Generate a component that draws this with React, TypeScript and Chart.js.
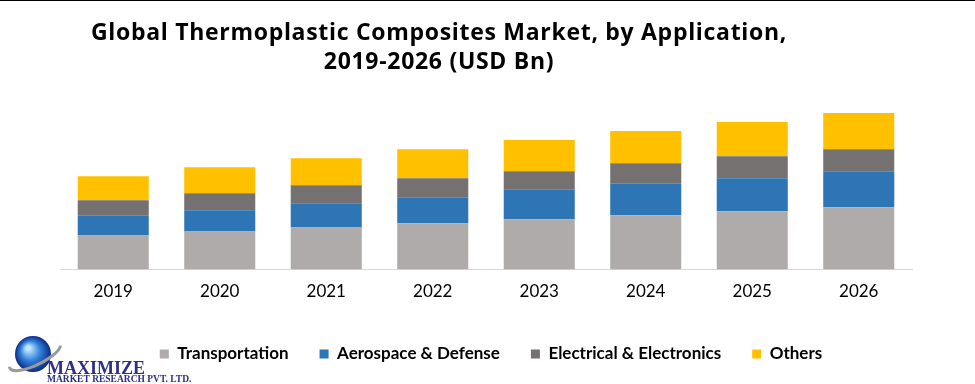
import React, { useEffect, useRef } from "react";
import { Chart, registerables } from "chart.js";

Chart.register(...registerables);

const years = ["2019", "2020", "2021", "2022", "2023", "2024", "2025", "2026"];
const transportation = [6.8, 7.6, 8.4, 9.2, 10.0, 10.8, 11.6, 12.4];
const aerospace = [3.9, 4.2, 4.8, 5.2, 5.9, 6.3, 6.6, 7.2];
const electrical = [3.1, 3.4, 3.6, 3.8, 3.7, 4.1, 4.4, 4.4];
const others = [4.8, 5.2, 5.4, 5.8, 6.2, 6.4, 6.8, 7.2];
const titleLines = ["Global Thermoplastic Composites Market, by Application,", "2019-2026 (USD Bn)"];
const logoMain = "MAXIMIZE";
const logoSub = "MARKET RESEARCH PVT. LTD.";

const legendShiftPlugin = {
  id: "legendShift",
  afterLayout(chart: any) {
    const l = chart.legend;
    if (l) {
      l.left += 5;
      l.right += 5;
    }
  },
};

const decorPlugin = {
  id: "decor",
  afterDraw(chart: any) {
    const ctx = chart.ctx as CanvasRenderingContext2D;
    ctx.save();
    // top border line
    ctx.fillStyle = "#000";
    ctx.fillRect(0, 0, chart.width, 1);
    // title
    ctx.font = "bold 23px 'Open Sans'";
    (ctx as any).letterSpacing = "0.7px";
    ctx.textAlign = "center";
    ctx.textBaseline = "alphabetic";
    ctx.fillStyle = "#000";
    ctx.fillText(titleLines[0], 439, 40);
    ctx.fillText(titleLines[1], 439, 69);
    (ctx as any).letterSpacing = "0px";
    // logo globe
    const cx = 33, cy = 354, r = 18;
    const g = ctx.createRadialGradient(cx - 5, cy - 6, 2, cx, cy, r);
    g.addColorStop(0, "#bfe6ff");
    g.addColorStop(0.5, "#2f7fd8");
    g.addColorStop(1, "#0b2a86");
    ctx.beginPath();
    ctx.arc(cx, cy, r, 0, Math.PI * 2);
    ctx.fillStyle = g;
    ctx.fill();
    // swoosh
    ctx.beginPath();
    ctx.ellipse(cx + 2, cy + 2, 28, 9, -0.45, 0.2, Math.PI * 1.05);
    ctx.strokeStyle = "#9a9a9a";
    ctx.lineWidth = 3;
    ctx.stroke();
    // logo text
    ctx.textAlign = "left";
    ctx.fillStyle = "#2e2f8a";
    ctx.font = "bold 18px 'Liberation Serif'";
    ctx.fillText(logoMain, 47, 374);
    ctx.font = "bold 9.5px 'Liberation Serif'";
    ctx.fillText(logoSub, 47, 382);
    ctx.restore();
  },
};

export default function App() {
  const ref = useRef<HTMLCanvasElement | null>(null);
  useEffect(() => {
    if (!ref.current) return;
    const chart = new Chart(ref.current, {
      type: "bar",
      data: {
        labels: years,
        datasets: [
          { label: "Transportation", data: transportation, backgroundColor: "#AEABAA" },
          { label: "Aerospace & Defense", data: aerospace, backgroundColor: "#2E75B6" },
          { label: "Electrical & Electronics", data: electrical, backgroundColor: "#767171" },
          { label: "Others", data: others, backgroundColor: "#FFC000" },
        ],
      },
      options: {
        responsive: false,
        animation: false,
        layout: { padding: { top: 100, left: 60, right: 63, bottom: 11.5 } },
        datasets: { bar: { categoryPercentage: 1, barPercentage: 0.667, borderWidth: 0 } },
        scales: {
          x: {
            stacked: true,
            grid: { display: false, drawTicks: false },
            border: { display: true, color: "#d9d9d9", width: 1 },
            ticks: { color: "#000", padding: 0, font: { family: "Lato", size: 17, lineHeight: 45 / 17 } },
          },
          y: { stacked: true, display: false, min: 0, max: 33.8 },
        },
        plugins: {
          legend: {
            position: "bottom",
            labels: {
              boxWidth: 9,
              boxHeight: 9,
              padding: 31,
              color: "#000",
              font: { family: "Lato", size: 17, weight: "bold" },
            },
          },
          tooltip: { enabled: false },
        },
      },
      plugins: [legendShiftPlugin, decorPlugin],
    });
    return () => chart.destroy();
  }, []);
  return (
    <div style={{ position: "absolute", left: 0, top: 0, width: 975, height: 384, background: "#fff" }}>
      <canvas ref={ref} width={975} height={384} />
    </div>
  );
}
